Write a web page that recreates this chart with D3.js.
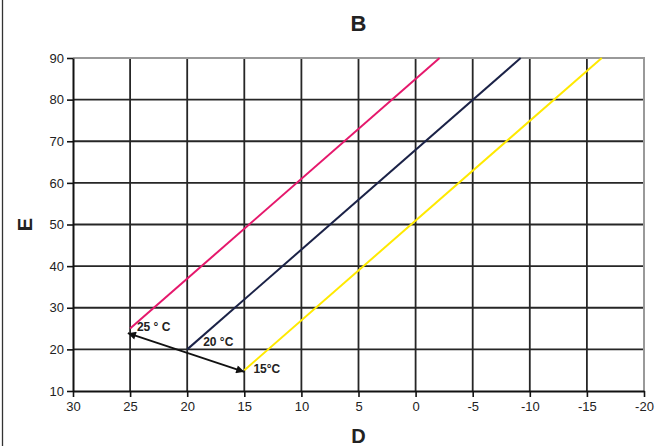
<!DOCTYPE html>
<html>
<head>
<meta charset="utf-8">
<script src="https://cdn.jsdelivr.net/npm/d3@7"></script>
<style>
  html, body { margin: 0; padding: 0; background: #fff; }
  svg { display: block; font-family: "Liberation Sans", Arial, sans-serif; }
</style>
</head>
<body>
<svg id="chart" width="657" height="446"></svg>
<script>
// Axis ticks
const xTicks = [30, 25, 20, 15, 10, 5, 0, -5, -10, -15, -20];
const yTicks = [10, 20, 30, 40, 50, 60, 70, 80, 90];

// Temperature lines: [D, E] points
const line25 = [[25, 25], [-2.1, 90]];
const line20 = [[20, 20], [-9.2, 90]];
const line15 = [[15, 15], [-16.3, 90]];
const lineColors = ["#e5186c", "#1b2247", "#ffe900"];

// Temperature labels and their anchor points [D, E]
const tempLabels = ["25 ° C", "20 °C", "15°C"];
const tempLabelAt = [[24.4, 25.4], [18.6, 21.8], [14.2, 15.3]];

// Double-headed arrow between the 25 °C and 15 °C starts
const arrowEnds = [[25.2, 23.9], [15, 14.6]];

const W = 657, H = 446;
const margin = { top: 58, right: 13, bottom: 55, left: 73 };
const iw = W - margin.left - margin.right;
const ih = H - margin.top - margin.bottom;

const svg = d3.select("#chart");

// Frame line along the left edge
svg.append("line")
  .attr("x1", 2.5).attr("x2", 2.5).attr("y1", 0).attr("y2", H)
  .attr("stroke", "#333").attr("stroke-width", 1.3);

const g = svg.append("g").attr("transform", `translate(${margin.left},${margin.top})`);

const x = d3.scaleLinear().domain([30, -20]).range([0, iw]);
const y = d3.scaleLinear().domain([10, 90]).range([ih, 0]);

// Grid
g.append("g").selectAll("line.h").data(yTicks.filter(v => v > 10 && v < 90)).join("line")
  .attr("x1", 0).attr("x2", iw)
  .attr("y1", d => y(d)).attr("y2", d => y(d))
  .attr("stroke", "#262626").attr("stroke-width", 1.8);
g.append("g").selectAll("line.v").data(xTicks.filter(v => v < 30 && v > -20)).join("line")
  .attr("y1", 0).attr("y2", ih)
  .attr("x1", d => x(d)).attr("x2", d => x(d))
  .attr("stroke", "#262626").attr("stroke-width", 1.8);

// Plot area border (top and right)
g.append("path")
  .attr("d", `M0,0H${iw}V${ih}`)
  .attr("fill", "none").attr("stroke", "#999").attr("stroke-width", 2);

// Axes (plain hyphen for negative numbers)
const fmt = d => String(d);
const xAxis = g.append("g").attr("transform", `translate(0,${ih})`)
  .call(d3.axisBottom(x).tickValues(xTicks).tickFormat(fmt).tickSize(6).tickSizeOuter(0).tickPadding(5));
const yAxis = g.append("g")
  .call(d3.axisLeft(y).tickValues(yTicks).tickFormat(fmt).tickSize(6).tickSizeOuter(0).tickPadding(3));
[xAxis, yAxis].forEach(a => {
  a.attr("font-size", null).attr("font-family", null);
  a.select(".domain").attr("stroke", "#111").attr("stroke-width", 2);
  a.selectAll(".tick line").attr("stroke", "#111").attr("stroke-width", 1.6);
  a.selectAll(".tick text").attr("fill", "#222")
    .style("font-size", "13px").style("font-family", "'Liberation Sans', Arial, sans-serif");
});

// Temperature lines
const lineGen = d3.line().x(d => x(d[0])).y(d => y(d[1]));
[line25, line20, line15].forEach((pts, i) => {
  g.append("path").attr("d", lineGen(pts))
    .attr("fill", "none").attr("stroke", lineColors[i]).attr("stroke-width", 2);
});

// Arrow
const defs = svg.append("defs");
["start", "end"].forEach(k => {
  defs.append("marker")
    .attr("id", "arrow-" + k)
    .attr("viewBox", "0 0 10 10")
    .attr("refX", 10).attr("refY", 5)
    .attr("markerWidth", 5).attr("markerHeight", 4.5)
    .attr("markerUnits", "strokeWidth")
    .attr("orient", k === "start" ? "auto-start-reverse" : "auto")
    .append("path").attr("d", "M0,0L10,5L0,10Z").attr("fill", "#111");
});
g.append("path").attr("d", lineGen(arrowEnds))
  .attr("fill", "none").attr("stroke", "#111").attr("stroke-width", 1.8)
  .attr("marker-start", "url(#arrow-start)")
  .attr("marker-end", "url(#arrow-end)");

// Temperature labels
g.selectAll("text.temp").data(tempLabels).join("text")
  .attr("class", "temp")
  .attr("x", (d, i) => x(tempLabelAt[i][0]))
  .attr("y", (d, i) => y(tempLabelAt[i][1]))
  .attr("dy", "0.35em")
  .attr("fill", "#222")
  .style("font-size", "12px").style("font-weight", "bold")
  .text(d => d);

// Titles
svg.append("text").attr("x", margin.left + iw / 2).attr("y", 31)
  .attr("text-anchor", "middle").attr("fill", "#222")
  .style("font-size", "22px").style("font-weight", "bold").text("B");
svg.append("text").attr("x", margin.left + iw / 2).attr("y", 443)
  .attr("text-anchor", "middle").attr("fill", "#222")
  .style("font-size", "20px").style("font-weight", "bold").text("D");
svg.append("text")
  .attr("transform", `translate(32,${margin.top + ih / 2}) rotate(-90)`)
  .attr("text-anchor", "middle").attr("fill", "#222")
  .style("font-size", "20px").style("font-weight", "bold").text("E");
</script>
</body>
</html>
